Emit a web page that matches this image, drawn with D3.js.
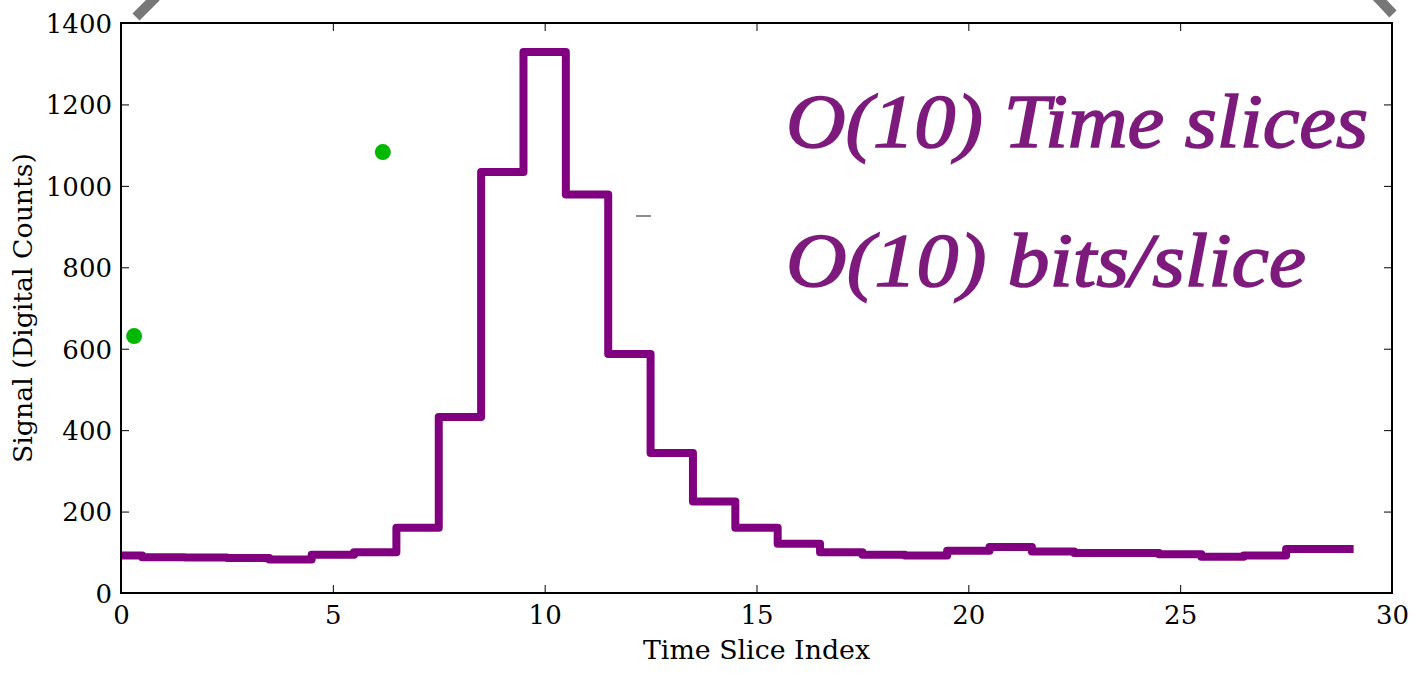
<!DOCTYPE html>
<html>
<head>
<meta charset="utf-8">
<script src="https://cdn.jsdelivr.net/npm/d3@7"></script>
<style>
  body { margin: 0; background: #fff; }
  svg { display: block; }
  .tick text { font-family: "DejaVu Serif", serif; font-size: 26px; fill: #000; }
</style>
</head>
<body>
<div id="chart"></div>
<script>
// Signal per time slice (step plot, mid steps)
const sliceIndex = d3.range(0, 30);
const signal = [92, 88, 87, 86, 82, 94, 100, 160, 432, 1034,
                1329, 979, 587, 344, 225, 160, 121, 100, 94, 92,
                104, 113, 102, 98, 98, 95, 89, 92, 108, 108];

// the two green points
const dotX = [0.31, 6.18];
const dotY = [631, 1083];

const xTicks = [0, 5, 10, 15, 20, 25, 30];
const yTicks = [0, 200, 400, 600, 800, 1000, 1200, 1400];

const W = 1422, H = 676;
const margin = { left: 121, right: 30, top: 23, bottom: 83 };

const svg = d3.select('#chart').append('svg')
  .attr('width', W)
  .attr('height', H);

const x = d3.scaleLinear().domain([0, 30]).range([margin.left, W - margin.right]);
const y = d3.scaleLinear().domain([0, 1400]).range([H - margin.bottom, margin.top]);

// clip marks to the axes box, like matplotlib does
svg.append('clipPath')
  .attr('id', 'plot-clip')
  .append('rect')
  .attr('x', x(0))
  .attr('y', y(1400))
  .attr('width', x(30) - x(0))
  .attr('height', y(0) - y(1400));

// step line
const line = d3.line()
  .x((d, i) => x(sliceIndex[i]))
  .y(d => y(d))
  .curve(d3.curveStep);

svg.append('path')
  .datum(signal)
  .attr('clip-path', 'url(#plot-clip)')
  .attr('d', line)
  .attr('fill', 'none')
  .attr('stroke', '#800080')
  .attr('stroke-width', 8)
  .attr('stroke-linejoin', 'round')
  .attr('stroke-linecap', 'square');

// green dots
svg.selectAll('.dot')
  .data(dotX)
  .join('circle')
  .attr('class', 'dot')
  .attr('cx', d => x(d))
  .attr('cy', (d, i) => y(dotY[i]))
  .attr('r', 8)
  .attr('fill', '#00b800');

// axes, ticks pointing inward on all four sides
const fmt = d3.format('d');
const axBottom = svg.append('g')
  .attr('transform', `translate(0,${y(0)})`)
  .call(d3.axisBottom(x).tickValues(xTicks).tickFormat(fmt).tickSize(-8).tickPadding(13));
const axLeft = svg.append('g')
  .attr('transform', `translate(${x(0)},0)`)
  .call(d3.axisLeft(y).tickValues(yTicks).tickFormat(fmt).tickSize(-8).tickPadding(9));
const axTop = svg.append('g')
  .attr('transform', `translate(0,${y(1400)})`)
  .call(d3.axisTop(x).tickValues(xTicks).tickSize(-8).tickFormat(''));
const axRight = svg.append('g')
  .attr('transform', `translate(${x(30)},0)`)
  .call(d3.axisRight(y).tickValues(yTicks).tickSize(-8).tickFormat(''));

[axBottom, axLeft, axTop, axRight].forEach(g => {
  g.select('.domain').remove();
  g.selectAll('.tick line').attr('stroke', '#000').attr('stroke-width', 1);
});
axBottom.selectAll('.tick text').attr('dy', '0.71em');
axLeft.selectAll('.tick text').attr('dy', '0.36em');

// frame
svg.append('rect')
  .attr('x', x(0))
  .attr('y', y(1400))
  .attr('width', x(30) - x(0))
  .attr('height', y(0) - y(1400))
  .attr('fill', 'none')
  .attr('stroke', '#000')
  .attr('stroke-width', 2);

// axis labels
svg.append('text')
  .attr('x', (x(0) + x(30)) / 2)
  .attr('y', 659)
  .attr('text-anchor', 'middle')
  .attr('textLength', 227)
  .attr('lengthAdjust', 'spacingAndGlyphs')
  .style('font-family', '"DejaVu Serif", serif')
  .style('font-size', '26px')
  .text('Time Slice Index');

svg.append('text')
  .attr('transform', `translate(32,${(y(0) + y(1400)) / 2}) rotate(-90)`)
  .attr('text-anchor', 'middle')
  .attr('textLength', 310)
  .attr('lengthAdjust', 'spacingAndGlyphs')
  .style('font-family', '"DejaVu Serif", serif')
  .style('font-size', '26px')
  .text('Signal (Digital Counts)');

// big annotation
const notes = ['O(10) Time slices', 'O(10) bits/slice'];
const noteLen = [582, 520];
const noteBase = [147, 286];
svg.selectAll('.note')
  .data(notes)
  .join('text')
  .attr('class', 'note')
  .attr('x', 786)
  .attr('y', (d, i) => noteBase[i])
  .attr('textLength', (d, i) => noteLen[i])
  .attr('lengthAdjust', 'spacingAndGlyphs')
  .style('font-family', '"Liberation Serif", serif')
  .style('font-style', 'italic')
  .style('font-size', '76px')
  .style('fill', '#7d1b7d')
  .style('stroke', '#7d1b7d')
  .style('stroke-width', 1.6)
  .text(d => d);

// stray marks in the picture
svg.append('line')
  .attr('x1', 636).attr('x2', 651).attr('y1', 216).attr('y2', 216)
  .attr('stroke', '#666').attr('stroke-width', 1.5);
svg.append('line')
  .attr('x1', 136).attr('y1', 17).attr('x2', 156).attr('y2', -3)
  .attr('stroke', '#777').attr('stroke-width', 10);
svg.append('line')
  .attr('x1', 1376).attr('y1', -4).attr('x2', 1393).attr('y2', 14)
  .attr('stroke', '#777').attr('stroke-width', 10);
</script>
</body>
</html>
